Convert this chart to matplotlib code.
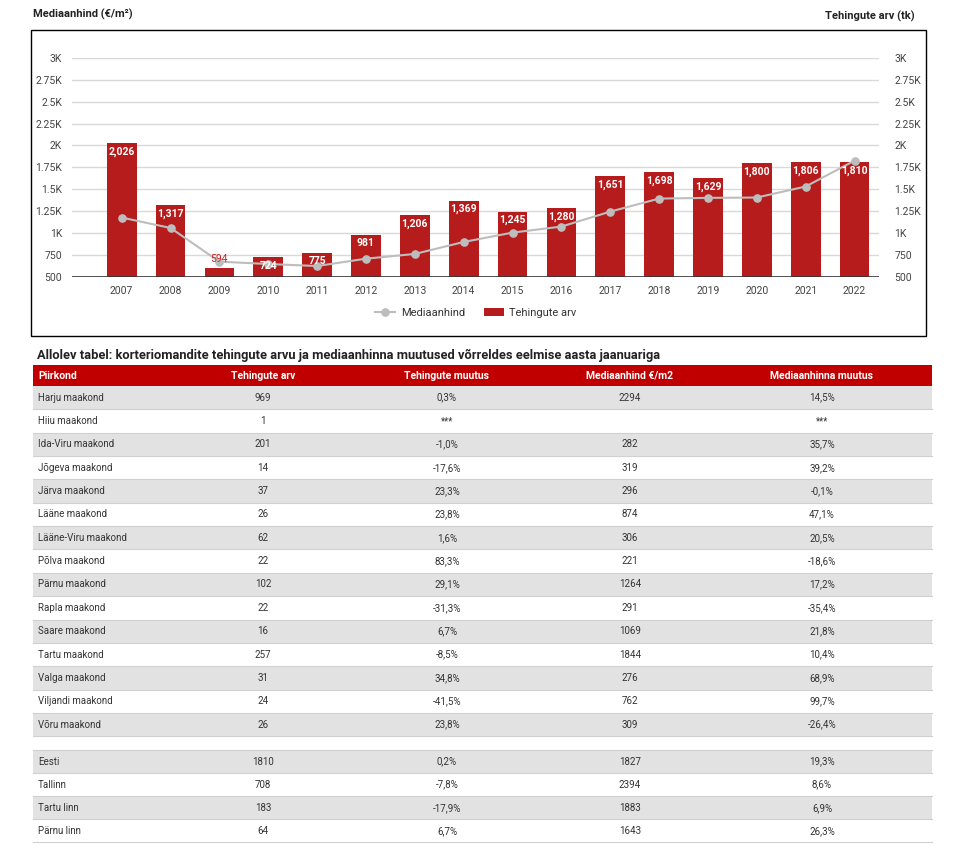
import matplotlib
matplotlib.use("Agg")
import matplotlib.pyplot as plt
from matplotlib.patches import Rectangle
from matplotlib.lines import Line2D
from matplotlib.ticker import FixedLocator, FuncFormatter

plt.rcParams['font.family'] = ['Roboto', 'DejaVu Sans']

# ---------------- data ----------------
years = ['2007', '2008', '2009', '2010', '2011', '2012', '2013', '2014',
         '2015', '2016', '2017', '2018', '2019', '2020', '2021', '2022']
tehingute_arv = [2026, 1317, 594, 724, 775, 981, 1206, 1369,
                 1245, 1280, 1651, 1698, 1629, 1800, 1806, 1810]
mediaanhind = [1176, 1057, 672, 645, 622, 706, 760, 897,
               1004, 1073, 1244, 1393, 1401, 1405, 1531, 1827]
y_ticks = [500, 750, 1000, 1250, 1500, 1750, 2000, 2250, 2500, 2750, 3000]

col_headers = ['Piirkond', 'Tehingute arv', 'Tehingute muutus',
               'Mediaanhind €/m2', 'Mediaanhinna muutus']
regions = ['Harju maakond', 'Hiiu maakond', 'Ida-Viru maakond', 'Jõgeva maakond',
           'Järva maakond', 'Lääne maakond', 'Lääne-Viru maakond', 'Põlva maakond',
           'Pärnu maakond', 'Rapla maakond', 'Saare maakond', 'Tartu maakond',
           'Valga maakond', 'Viljandi maakond', 'Võru maakond']
reg_tehingud = ['969', '1', '201', '14', '37', '26', '62', '22', '102', '22',
                '16', '257', '31', '24', '26']
reg_teh_muutus = ['0,3%', '***', '-1,0%', '-17,6%', '23,3%', '23,8%', '1,6%',
                  '83,3%', '29,1%', '-31,3%', '6,7%', '-8,5%', '34,8%', '-41,5%', '23,8%']
reg_mediaan = ['2294', '', '282', '319', '296', '874', '306', '221', '1264',
               '291', '1069', '1844', '276', '762', '309']
reg_med_muutus = ['14,5%', '***', '35,7%', '39,2%', '-0,1%', '47,1%', '20,5%',
                  '-18,6%', '17,2%', '-35,4%', '21,8%', '10,4%', '68,9%', '99,7%', '-26,4%']
summary_names = ['Eesti', 'Tallinn', 'Tartu linn', 'Pärnu linn']
sum_tehingud = ['1810', '708', '183', '64']
sum_teh_muutus = ['0,2%', '-7,8%', '-17,9%', '6,7%']
sum_mediaan = ['1827', '2394', '1883', '1643']
sum_med_muutus = ['19,3%', '8,6%', '6,9%', '26,3%']

# ---------------- figure ----------------
W, H = 958, 849
fig = plt.figure(figsize=(W / 100, H / 100), dpi=100)
fig.patch.set_facecolor('white')

def fx(x):
    return x / W

def fy(y):
    return 1 - y / H

BAR = '#b71c1c'
LINE = '#bdbdbd'
TXT = '#444444'

# background/table axes in pixel coordinates
bg = fig.add_axes([0, 0, 1, 1], zorder=0)
bg.set_xlim(0, W)
bg.set_ylim(H, 0)
bg.axis('off')
bg.patch.set_alpha(0)

# chart frame
bg.add_patch(Rectangle((31, 30), 895, 306, fill=False, edgecolor='black', lw=1.0))
bg.text(33, 14, 'Mediaanhind (€/m²)', fontsize=8, fontweight='bold',
        color='#222222', ha='left', va='center')
bg.text(915, 16, 'Tehingute arv (tk)', fontsize=8, fontweight='bold',
        color='#222222', ha='right', va='center')

# main chart axes
L, R, T, B = 72, 879, 58, 276.7
ax = fig.add_axes([fx(L), fy(B), fx(R - L), (B - T) / H], zorder=2)
ax.patch.set_alpha(0)
x = list(range(len(years)))
ax.set_xlim(-1.017, 15.5)
ax.set_ylim(500, 3000)

def kfmt(v, pos=None):
    if v >= 1000:
        s = ('%g' % (v / 1000))
        return s + 'K'
    return '%d' % v

for yv in y_ticks[1:]:
    ax.axhline(yv, color='#d9d9d9', lw=1.0, zorder=0)
ax.axhline(500, color='#333333', lw=1.2, zorder=3)

bars = ax.bar(x, [v - 500 for v in tehingute_arv], bottom=500, width=0.61,
              color=BAR, zorder=2)
ax.plot(x, mediaanhind, color=LINE, lw=1.5, marker='o', ms=5.2,
        markeredgecolor=LINE, zorder=4)

for xi, v in zip(x, tehingute_arv):
    lab = f'{v:,}'
    if v - 500 < 150:
        ax.annotate(lab, (xi, v), xytext=(0, 3), textcoords='offset points',
                    ha='center', va='bottom', fontsize=7.5, color='#c62828', zorder=5)
    else:
        ax.annotate(lab, (xi, v), xytext=(0, -2.5), textcoords='offset points',
                    ha='center', va='top', fontsize=7.5, color='white',
                    fontweight='bold', zorder=5)

for s in ax.spines.values():
    s.set_visible(False)
ax.set_xticks(x)
ax.set_xticklabels(years)
ax.tick_params(axis='x', length=0, pad=7, labelsize=7.5, labelcolor=TXT)
ax.yaxis.set_major_locator(FixedLocator(y_ticks))
ax.yaxis.set_major_formatter(FuncFormatter(kfmt))
ax.tick_params(axis='y', length=0, pad=7, labelsize=7.5, labelcolor=TXT)

ax2 = ax.twinx()
ax2.set_ylim(500, 3000)
ax2.yaxis.set_major_locator(FixedLocator(y_ticks))
ax2.yaxis.set_major_formatter(FuncFormatter(kfmt))
ax2.tick_params(axis='y', length=0, pad=11, labelsize=7.5, labelcolor=TXT)
for s in ax2.spines.values():
    s.set_visible(False)

handles = [Line2D([0], [0], color=LINE, lw=1.5, marker='o', ms=5.2),
           Rectangle((0, 0), 1, 1, facecolor=BAR)]
fig.legend(handles, ['Mediaanhind', 'Tehingute arv'], loc='center',
           bbox_to_anchor=(fx(476), fy(313)), ncol=2, frameon=False,
           fontsize=8, handlelength=1.8, columnspacing=1.7, handletextpad=0.5,
           labelcolor='#333333')

# ---------------- table ----------------
bg.text(37, 355, 'Allolev tabel: korteriomandite tehingute arvu ja mediaanhinna '
        'muutused võrreldes eelmise aasta jaanuariga', fontsize=9.3,
        fontweight='bold', color='#222222', ha='left', va='center')

TX0, TX1 = 33, 932
col_x = [38, 263, 447, 630, 822]
col_ha = ['left', 'center', 'center', 'center', 'center']

bg.add_patch(Rectangle((TX0, 365), TX1 - TX0, 21, facecolor='#c00000', edgecolor='none'))
for cx, ha, h in zip(col_x, col_ha, col_headers):
    bg.text(cx, 375.5, h, fontsize=7.5, fontweight='bold', color='white',
            ha=ha, va='center')

def draw_rows(names, c1, c2, c3, c4, top, step):
    for i, row in enumerate(zip(names, c1, c2, c3, c4)):
        y0 = top + step * i
        if i % 2 == 0:
            bg.add_patch(Rectangle((TX0, y0), TX1 - TX0, step,
                                   facecolor='#e2e2e2', edgecolor='none'))
        bg.plot([TX0, TX1], [y0 + step, y0 + step], color='#d0d0d0', lw=0.8)
        for cx, ha, val in zip(col_x, col_ha, row):
            bg.text(cx, y0 + step / 2, val, fontsize=7, color='#333333',
                    ha=ha, va='center')

draw_rows(regions, reg_tehingud, reg_teh_muutus, reg_mediaan, reg_med_muutus,
          386, 23.35)
bg.plot([TX0, TX1], [750, 750], color='#d0d0d0', lw=0.8)
draw_rows(summary_names, sum_tehingud, sum_teh_muutus, sum_mediaan, sum_med_muutus,
          750, 23.1)

fig.savefig('out.png', dpi=100, facecolor='white')
